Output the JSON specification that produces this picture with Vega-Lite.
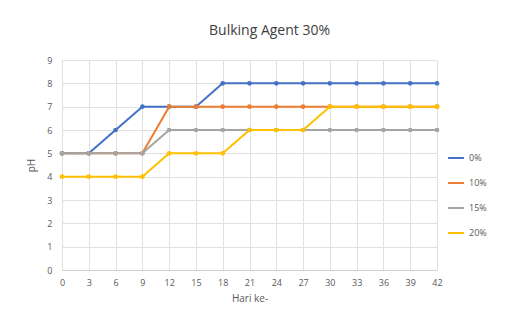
{
  "$schema": "https://vega.github.io/schema/vega-lite/v6.json",
  "width": 375,
  "height": 210,
  "autosize": {"type": "none"},
  "padding": {"left": 62, "top": 60, "right": 71, "bottom": 43},
  "background": "white",
  "title": {"text": "Bulking Agent 30%", "font": "Open Sans", "fontSize": 14, "fontWeight": "normal", "color": "#404040", "anchor": "middle", "offset": 18, "dx": 20},
  "config": {"view": {"stroke": null}, "font": "Open Sans"},
  "data": {"values": [
    {"hari": 0, "s": "0%", "ph": 5}, {"hari": 3, "s": "0%", "ph": 5}, {"hari": 6, "s": "0%", "ph": 6}, {"hari": 9, "s": "0%", "ph": 7}, {"hari": 12, "s": "0%", "ph": 7}, {"hari": 15, "s": "0%", "ph": 7}, {"hari": 18, "s": "0%", "ph": 8}, {"hari": 21, "s": "0%", "ph": 8}, {"hari": 24, "s": "0%", "ph": 8}, {"hari": 27, "s": "0%", "ph": 8}, {"hari": 30, "s": "0%", "ph": 8}, {"hari": 33, "s": "0%", "ph": 8}, {"hari": 36, "s": "0%", "ph": 8}, {"hari": 39, "s": "0%", "ph": 8}, {"hari": 42, "s": "0%", "ph": 8},
    {"hari": 0, "s": "10%", "ph": 5}, {"hari": 3, "s": "10%", "ph": 5}, {"hari": 6, "s": "10%", "ph": 5}, {"hari": 9, "s": "10%", "ph": 5}, {"hari": 12, "s": "10%", "ph": 7}, {"hari": 15, "s": "10%", "ph": 7}, {"hari": 18, "s": "10%", "ph": 7}, {"hari": 21, "s": "10%", "ph": 7}, {"hari": 24, "s": "10%", "ph": 7}, {"hari": 27, "s": "10%", "ph": 7}, {"hari": 30, "s": "10%", "ph": 7}, {"hari": 33, "s": "10%", "ph": 7}, {"hari": 36, "s": "10%", "ph": 7}, {"hari": 39, "s": "10%", "ph": 7}, {"hari": 42, "s": "10%", "ph": 7},
    {"hari": 0, "s": "15%", "ph": 5}, {"hari": 3, "s": "15%", "ph": 5}, {"hari": 6, "s": "15%", "ph": 5}, {"hari": 9, "s": "15%", "ph": 5}, {"hari": 12, "s": "15%", "ph": 6}, {"hari": 15, "s": "15%", "ph": 6}, {"hari": 18, "s": "15%", "ph": 6}, {"hari": 21, "s": "15%", "ph": 6}, {"hari": 24, "s": "15%", "ph": 6}, {"hari": 27, "s": "15%", "ph": 6}, {"hari": 30, "s": "15%", "ph": 6}, {"hari": 33, "s": "15%", "ph": 6}, {"hari": 36, "s": "15%", "ph": 6}, {"hari": 39, "s": "15%", "ph": 6}, {"hari": 42, "s": "15%", "ph": 6},
    {"hari": 0, "s": "20%", "ph": 4}, {"hari": 3, "s": "20%", "ph": 4}, {"hari": 6, "s": "20%", "ph": 4}, {"hari": 9, "s": "20%", "ph": 4}, {"hari": 12, "s": "20%", "ph": 5}, {"hari": 15, "s": "20%", "ph": 5}, {"hari": 18, "s": "20%", "ph": 5}, {"hari": 21, "s": "20%", "ph": 6}, {"hari": 24, "s": "20%", "ph": 6}, {"hari": 27, "s": "20%", "ph": 6}, {"hari": 30, "s": "20%", "ph": 7}, {"hari": 33, "s": "20%", "ph": 7}, {"hari": 36, "s": "20%", "ph": 7}, {"hari": 39, "s": "20%", "ph": 7}, {"hari": 42, "s": "20%", "ph": 7}
  ]},
  "mark": {"type": "line", "strokeWidth": 2, "point": {"size": 22, "filled": true}},
  "encoding": {
    "x": {"field": "hari", "type": "quantitative", "scale": {"domain": [0, 42], "nice": false},
      "axis": {"title": "Hari ke-", "values": [0,3,6,9,12,15,18,21,24,27,30,33,36,39,42], "labelColor": "#595959", "labelFontSize": 9, "titleColor": "#595959", "titleFontSize": 10, "titleFontWeight": "normal", "titlePadding": 6, "labelPadding": 8, "ticks": false, "domainColor": "#d0d0d0", "gridColor": "#e0e0e0", "labelFlush": false}},
    "y": {"field": "ph", "type": "quantitative", "scale": {"domain": [0, 9], "nice": false},
      "axis": {"title": "pH", "values": [0,1,2,3,4,5,6,7,8,9], "labelColor": "#595959", "labelFontSize": 9, "titleColor": "#595959", "titleFontSize": 10, "titleFontWeight": "normal", "titlePadding": 10, "labelPadding": 10, "ticks": false, "domain": false, "gridColor": "#e0e0e0"}},
    "color": {"field": "s", "type": "nominal", "scale": {"domain": ["0%", "10%", "15%", "20%"], "range": ["#4472C4", "#ED7D31", "#A5A5A5", "#FFC000"]},
      "legend": {"title": null, "orient": "none", "legendX": 385, "legendY": 89, "labelColor": "#595959", "labelFontSize": 9, "rowPadding": 11, "symbolType": "stroke", "symbolStrokeWidth": 2, "symbolSize": 250}}
  }
}
